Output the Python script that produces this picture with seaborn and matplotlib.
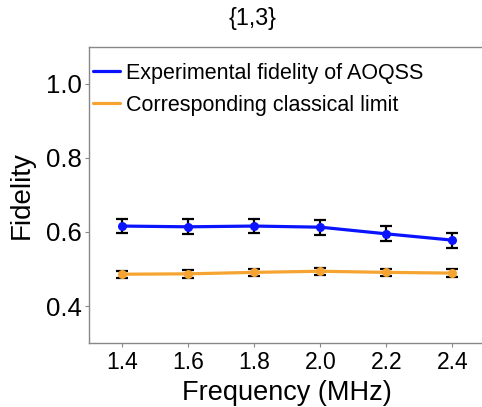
import numpy as np
import pandas as pd
import matplotlib
matplotlib.use("Agg")
import matplotlib.pyplot as plt
import seaborn as sns

# Datos
freq = [1.4, 1.6, 1.8, 2.0, 2.2, 2.4]
fid_exp = [0.616, 0.614, 0.616, 0.613, 0.595, 0.578]
err_exp = [0.020, 0.020, 0.020, 0.020, 0.020, 0.020]
fid_cls = [0.486, 0.487, 0.491, 0.494, 0.491, 0.489]
err_cls = [0.010, 0.010, 0.010, 0.010, 0.010, 0.010]
labels = ["Experimental fidelity of AOQSS", "Corresponding classical limit"]
colors = ["#0a14ff", "#f5a431"]

sns.set_style("ticks")
plt.rcParams['font.family'] = ['Liberation Sans', 'DejaVu Sans']
plt.rcParams['text.color'] = 'black'
plt.rcParams['axes.labelcolor'] = 'black'

df = pd.DataFrame({
    'Frequency': freq + freq,
    'Fidelity': fid_exp + fid_cls,
    'Serie': [labels[0]] * len(freq) + [labels[1]] * len(freq),
})

fig = plt.figure(figsize=(4.82, 4.07), dpi=100)
ax = fig.add_axes([0.185, 0.157, 0.822, 0.728])

# Barras de error (debajo de las lineas)
for y, e in [(fid_exp, err_exp), (fid_cls, err_cls)]:
    ax.errorbar(freq, y, yerr=e, fmt='none', ecolor='black', elinewidth=1.6,
                capsize=4, capthick=1.6, zorder=2)

sns.lineplot(data=df, x='Frequency', y='Fidelity', hue='Serie', palette=colors,
             linewidth=2.3, marker='o', markersize=6.5, markeredgewidth=0,
             zorder=3, ax=ax)

ax.set_xlim(1.3, 2.5)
ax.set_ylim(0.3, 1.1)
ax.set_xticks(freq)
ax.set_xticklabels([f"{f:.1f}" for f in freq])
ax.set_yticks([0.4, 0.6, 0.8, 1.0])
ax.tick_params(axis='x', labelsize=16.5, color='#888888', labelcolor='black', length=3, pad=3)
ax.tick_params(axis='y', labelsize=18.5, color='#888888', labelcolor='black', length=3, pad=2.5)
for s in ax.spines.values():
    s.set_color('#888888')
    s.set_linewidth(1.0)

ax.set_xlabel('Frequency (MHz)', fontsize=19.5, labelpad=4)
ax.set_ylabel('Fidelity', fontsize=20, labelpad=8)
fig.text(252 / 482, 1 - 18 / 407, '{1,3}', fontsize=16.8, ha='center', va='center')

leg = ax.legend(loc='upper left', frameon=False, fontsize=15.5, handlelength=1.25,
                handletextpad=0.25, borderaxespad=0.0, borderpad=0.2,
                labelspacing=0.5, bbox_to_anchor=(0.0, 0.96))
for h in leg.legend_handles:
    h.set_marker('')

plt.savefig('out.png', dpi=100)
